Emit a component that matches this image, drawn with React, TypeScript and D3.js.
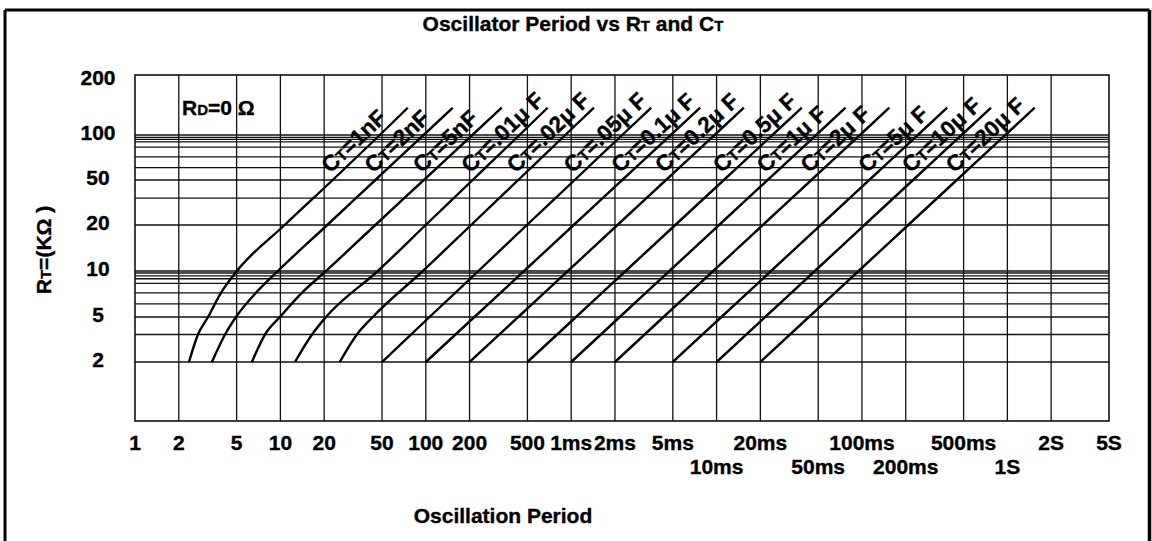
import React from "react";
import * as d3 from "d3";

// ---- axis data ----
const xTickValues = [1, 2, 5, 10, 20, 50, 100, 200, 500, 1e3, 2e3, 5e3, 1e4, 2e4, 5e4, 1e5, 2e5, 5e5, 1e6, 2e6, 5e6];
const xTickLabels = ["1", "2", "5", "10", "20", "50", "100", "200", "500", "1ms", "2ms", "5ms", "10ms", "20ms", "50ms", "100ms", "200ms", "500ms", "1S", "2S", "5S"];
const xTickRows = [0, 0, 0, 0, 0, 0, 0, 0, 0, 0, 0, 0, 1, 0, 1, 0, 1, 0, 1, 0, 0];

const yTickValues = [2, 5, 10, 20, 50, 100, 200];
const yTickLabels = ["2", "5", "10", "20", "50", "100", "200"];
const yMajorLines = [2, 5, 10, 20, 50, 100];
const yMinorLines = [3.5, 6.1, 7.2, 8.3, 8.9, 9.3, 9.7, 34.5, 60.5, 71.5, 83, 90, 93.5, 96.5];

// ---- series: [period (us), RT (kOhm)] ----
const ct1nF = [[2.35, 2], [2.71, 3.5], [3.18, 5], [3.9, 7.2], [5.02, 10], [10.7, 20], [22.9, 50], [48.3, 100], [75.2, 141]];
const ct2nF = [[3.38, 2], [4.16, 3.5], [4.95, 5], [6.79, 7.2], [9.61, 10], [21.0, 20], [45.0, 50], [96.6, 100], [153, 141]];
const ct5nF = [[6.37, 2], [7.83, 3.5], [9.92, 5], [14.05, 7.2], [20.6, 10], [45.0, 20], [97.0, 50], [209, 100], [333, 141]];
const ct01u = [[12.6, 2], [16.5, 3.5], [20.6, 5], [46.8, 10], [99.8, 20], [210, 50], [441, 100], [689, 141]];
const ct02u = [[25.6, 2], [33.6, 3.5], [43.2, 5], [95.4, 10], [205, 20], [432, 50], [910, 100], [1430, 141]];
const ct05u = [[50, 2], [106, 5], [230, 10], [496, 20], [1057, 50], [2245, 100], [3548, 141]];
const ct1u0 = [[100, 2], [216, 5], [474, 10], [1040, 20], [2244, 50], [4842, 100], [7710, 141]];
const ct2u0 = [[200, 2], [432, 5], [948, 10], [2080, 20], [4488, 50], [9684, 100], [15420, 141]];
const ct5u0 = [[500, 2], [1079, 5], [2369, 10], [5200, 20], [11220, 50], [24210, 100], [38550, 141]];
const ct1u = [[1000, 2], [2158, 5], [4738, 10], [10400, 20], [22440, 50], [48420, 100], [77100, 141]];
const ct2u = [[2000, 2], [4316, 5], [9476, 10], [20800, 20], [44880, 50], [96840, 100], [154200, 141]];
const ct5u = [[5000, 2], [10790, 5], [23690, 10], [52000, 20], [112200, 50], [242100, 100], [385500, 141]];
const ct10u = [[10000, 2], [21580, 5], [47380, 10], [104000, 20], [224400, 50], [484200, 100], [771000, 141]];
const ct20u = [[20000, 2], [43160, 5], [94760, 10], [208000, 20], [448800, 50], [968400, 100], [1542000, 141]];

const seriesNames = ["1nF", "2nF", "5nF", ".01\u03bc F", ".02\u03bc F", ".05\u03bc F", "0.1\u03bc F", "0.2\u03bc F", "0.5\u03bc F", "1\u03bc F", "2\u03bc F", "5\u03bc F", "10\u03bc F", "20\u03bc F"];
const seriesData = [ct1nF, ct2nF, ct5nF, ct01u, ct02u, ct05u, ct1u0, ct2u0, ct5u0, ct1u, ct2u, ct5u, ct10u, ct20u];

const FONT = "'Liberation Sans', Arial, Helvetica, sans-serif";

export default function App() {
  const W = 1152, H = 541;
  const left = 135, right = 1109, top = 75, bottom = 421;
  const x = d3.scaleLog().domain([1, 5e6]).range([left, right]);
  const y = d3.scaleLog()
    .domain([1, 2, 5, 10, 20, 50, 100, 200, 212])
    .range([bottom, 362, 317, 271, 225, 180, 135, 80, top]);

  const line = d3.line<number[]>()
    .x((d) => x(d[0]))
    .y((d) => y(d[1]))
    .curve(d3.curveMonotoneX);

  const labelPos = (s: number[][]) => {
    const i = s.findIndex((d) => d[1] === 50);
    const a = s[i], b = s[i + 1];
    const xa = x(a[0]), ya = y(a[1]), xb = x(b[0]), yb = y(b[1]);
    const yl = y(53);
    const t = (yl - ya) / (yb - ya);
    return { px: xa + t * (xb - xa), py: yl, ang: (Math.atan2(yb - ya, xb - xa) * 180) / Math.PI };
  };

  const txt = { fontFamily: FONT, fontWeight: 700 as const, fill: "#000", stroke: "#000", strokeWidth: 0.35 };

  return (
    <svg width={W} height={H} style={{ position: "absolute", left: 0, top: 0, background: "#fff" }}>
      <rect x={0} y={0} width={W} height={H} fill="#fff" />
      {/* outer frame */}
      <line x1={5} y1={10} x2={5} y2={H} stroke="#000" strokeWidth={3} />
      <line x1={5} y1={10} x2={1149.5} y2={10} stroke="#000" strokeWidth={3} />
      <line x1={1149.5} y1={10} x2={1149.5} y2={H} stroke="#000" strokeWidth={3.5} />

      {/* title */}
      <text x={573} y={31} textAnchor="middle" fontSize={21} {...txt}>
        Oscillator Period vs R<tspan fontSize={15}>T</tspan> and C<tspan fontSize={15}>T</tspan>
      </text>

      {/* grid */}
      <g stroke="#111" strokeWidth={1.3} fill="none">
        {xTickValues.slice(1, -1).map((v) => (
          <line key={"vx" + v} x1={x(v)} x2={x(v)} y1={top} y2={bottom} />
        ))}
        {yMajorLines.concat(yMinorLines).map((v) => (
          <line key={"hy" + v} x1={left} x2={right} y1={y(v)} y2={y(v)} />
        ))}
        <rect x={left} y={top} width={right - left} height={bottom - top} strokeWidth={1.6} />
      </g>

      {/* curves */}
      <g stroke="#000" strokeWidth={2.4} fill="none" strokeLinejoin="round">
        {seriesData.map((s, i) => (
          <path key={"c" + i} d={line(s) || ""} />
        ))}
      </g>

      {/* curve labels */}
      {seriesData.map((s, i) => {
        const p = labelPos(s);
        return (
          <text key={"l" + i} transform={`translate(${p.px},${p.py}) rotate(${p.ang})`} x={-3} y={-6} fontSize={22.5} {...txt}>
            C<tspan fontSize={16}>T</tspan>={seriesNames[i]}
          </text>
        );
      })}

      {/* RD label */}
      <text x={182} y={115} fontSize={21} {...txt}>
        R<tspan fontSize={15}>D</tspan>=0 {"\u03a9"}
      </text>

      {/* y tick labels */}
      {yTickValues.map((v, i) => (
        <text key={"yt" + v} x={98} y={y(v) + 5} textAnchor="middle" fontSize={21} {...txt}>
          {yTickLabels[i]}
        </text>
      ))}

      {/* y title */}
      <text transform={`translate(51,${250}) rotate(-90)`} textAnchor="middle" fontSize={21} {...txt}>
        R<tspan fontSize={15}>T</tspan>=(K{"\u03a9"} )
      </text>

      {/* x tick labels */}
      {xTickValues.map((v, i) => (
        <text key={"xt" + v} x={x(v)} y={xTickRows[i] ? 474 : 450} textAnchor="middle" fontSize={21} {...txt}>
          {xTickLabels[i]}
        </text>
      ))}

      {/* x title */}
      <text x={503} y={523} textAnchor="middle" fontSize={21} {...txt}>
        Oscillation Period
      </text>
    </svg>
  );
}
